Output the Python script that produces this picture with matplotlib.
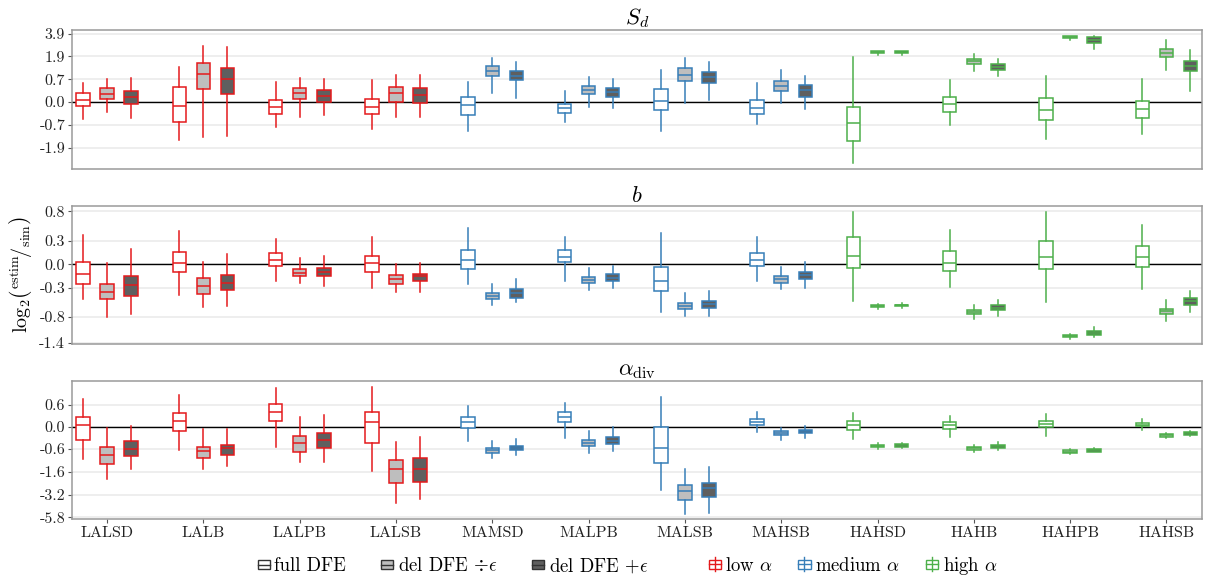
import numpy as np
import matplotlib
matplotlib.use("Agg")
import matplotlib.pyplot as plt
from matplotlib.patches import Patch, Rectangle
from matplotlib.lines import Line2D
from matplotlib.legend_handler import HandlerBase

plt.rcParams['font.family'] = ['cmr10', 'DejaVu Serif']
plt.rcParams['mathtext.fontset'] = 'cm'
plt.rcParams['axes.unicode_minus'] = False

categories = ['LALSD', 'LALB', 'LALPB', 'LALSB', 'MAMSD', 'MALPB', 'MALSB', 'MAHSB',
              'HAHSD', 'HAHB', 'HAHPB', 'HAHSB']
alpha_class = ['low'] * 4 + ['medium'] * 4 + ['high'] * 4

# box stats per category: (whisker low, q1, median, q3, whisker high)
sd_full = [(-0.47, -0.09, 0.05, 0.23, 0.56), (-1.40, -0.61, -0.11, 0.42, 1.27),
           (-0.78, -0.32, -0.12, 0.05, 0.58), (-0.86, -0.33, -0.12, 0.06, 0.65),
           (-0.98, -0.35, -0.07, 0.12, 0.60), (-0.58, -0.29, -0.16, -0.06, 0.29),
           (-0.95, -0.20, 0.03, 0.36, 1.11), (-0.68, -0.33, -0.14, 0.05, 0.56),
           (-3.13, -1.48, -0.62, -0.12, 1.85), (-0.72, -0.27, -0.04, 0.12, 0.67),
           (-1.35, -0.51, -0.20, 0.09, 0.84), (-1.11, -0.44, -0.17, 0.03, 0.72)]
sd_del_div = [(-0.26, 0.08, 0.19, 0.39, 0.71), (-1.26, 0.35, 0.92, 1.48, 2.64),
              (-0.42, 0.06, 0.22, 0.37, 0.73), (-0.42, 0.01, 0.23, 0.43, 0.87),
              (0.22, 0.84, 1.07, 1.31, 1.78), (-0.12, 0.19, 0.32, 0.44, 0.79),
              (-0.03, 0.64, 0.89, 1.21, 1.78), (-0.03, 0.29, 0.44, 0.63, 1.11),
              (2.00, 2.13, 2.20, 2.26, 2.28), (1.04, 1.42, 1.57, 1.72, 2.08),
              (3.26, 3.43, 3.54, 3.64, 3.68), (1.11, 1.85, 2.13, 2.43, 3.26)]
sd_del_plus = [(-0.44, -0.04, 0.11, 0.30, 0.73), (-1.23, 0.20, 0.71, 1.19, 2.59),
               (-0.34, 0.01, 0.16, 0.31, 0.69), (-0.42, -0.02, 0.18, 0.39, 0.87),
               (0.09, 0.65, 0.84, 1.07, 1.55), (-0.14, 0.13, 0.25, 0.37, 0.71),
               (0.04, 0.56, 0.77, 1.02, 1.54), (-0.19, 0.12, 0.33, 0.47, 0.84),
               (2.00, 2.12, 2.19, 2.25, 2.27), (0.81, 1.11, 1.26, 1.40, 1.74),
               (2.43, 2.94, 3.23, 3.57, 3.60), (0.28, 1.04, 1.29, 1.60, 2.38)]

b_full = [(-0.47, -0.24, -0.11, 0.02, 0.38), (-0.41, -0.09, 0.01, 0.15, 0.45),
          (-0.20, -0.02, 0.05, 0.13, 0.33), (-0.31, -0.09, 0.01, 0.09, 0.35),
          (-0.24, -0.05, 0.05, 0.17, 0.49), (-0.20, 0.02, 0.08, 0.17, 0.35),
          (-0.70, -0.35, -0.20, -0.03, 0.41), (-0.21, -0.02, 0.05, 0.13, 0.36),
          (-0.50, -0.04, 0.09, 0.35, 0.79), (-0.29, -0.08, 0.01, 0.16, 0.46),
          (-0.52, -0.05, 0.08, 0.29, 0.79), (-0.32, -0.03, 0.08, 0.22, 0.55)]
b_del_div = [(-0.80, -0.48, -0.36, -0.24, 0.01), (-0.61, -0.39, -0.28, -0.17, 0.03),
             (-0.23, -0.14, -0.10, -0.06, 0.07), (-0.36, -0.24, -0.18, -0.13, 0.00),
             (-0.58, -0.48, -0.43, -0.38, -0.25), (-0.33, -0.23, -0.19, -0.15, -0.04),
             (-0.77, -0.65, -0.59, -0.54, -0.38), (-0.32, -0.23, -0.18, -0.14, -0.03),
             (-0.65, -0.61, -0.60, -0.58, -0.55), (-0.84, -0.74, -0.71, -0.67, -0.58),
             (-1.29, -1.24, -1.22, -1.19, -1.17), (-0.89, -0.74, -0.69, -0.64, -0.49)]
b_del_plus = [(-0.74, -0.42, -0.26, -0.14, 0.19), (-0.59, -0.33, -0.23, -0.13, 0.12),
              (-0.27, -0.14, -0.09, -0.04, 0.09), (-0.36, -0.21, -0.14, -0.11, 0.01),
              (-0.52, -0.45, -0.38, -0.32, -0.18), (-0.31, -0.20, -0.16, -0.12, -0.02),
              (-0.77, -0.62, -0.56, -0.50, -0.35), (-0.31, -0.18, -0.13, -0.09, 0.03),
              (-0.62, -0.60, -0.58, -0.57, -0.54), (-0.77, -0.67, -0.63, -0.58, -0.49),
              (-1.24, -1.20, -1.15, -1.11, -1.00), (-0.71, -0.57, -0.51, -0.45, -0.34)]

ad_full = [(-0.97, -0.31, 0.03, 0.23, 0.80), (-0.62, -0.09, 0.12, 0.35, 0.97),
           (-0.53, 0.14, 0.38, 0.61, 1.29), (-1.53, -0.40, 0.10, 0.37, 1.34),
           (-0.34, -0.03, 0.10, 0.22, 0.57), (-0.26, 0.11, 0.22, 0.37, 0.65),
           (-2.78, -1.15, -0.58, -0.01, 0.89), (-0.12, 0.04, 0.11, 0.19, 0.37),
           (-0.29, -0.06, 0.04, 0.14, 0.34), (-0.23, -0.04, 0.03, 0.10, 0.25),
           (-0.21, -0.01, 0.07, 0.14, 0.31), (-0.08, 0.01, 0.04, 0.08, 0.17)]
ad_del_div = [(-2.04, -1.22, -0.80, -0.52, -0.03), (-1.44, -0.92, -0.68, -0.55, -0.05),
              (-1.13, -0.69, -0.41, -0.22, 0.24), (-4.02, -2.28, -1.47, -1.04, -0.37),
              (-0.92, -0.74, -0.64, -0.57, -0.36), (-0.74, -0.51, -0.40, -0.31, -0.09),
              (-5.29, -3.67, -2.89, -2.42, -1.42), (-0.31, -0.20, -0.14, -0.10, -0.02),
              (-0.61, -0.55, -0.51, -0.47, -0.42), (-0.72, -0.63, -0.57, -0.52, -0.47),
              (-0.77, -0.74, -0.69, -0.64, -0.61), (-0.26, -0.24, -0.20, -0.17, -0.14)]
ad_del_plus = [(-1.47, -0.86, -0.60, -0.35, 0.02), (-1.29, -0.80, -0.58, -0.46, -0.04),
               (-1.13, -0.56, -0.33, -0.15, 0.28), (-3.64, -2.19, -1.42, -0.93, -0.25),
               (-0.81, -0.65, -0.56, -0.49, -0.30), (-0.68, -0.45, -0.34, -0.25, 0.00),
               (-5.20, -3.45, -2.65, -2.26, -1.34), (-0.28, -0.15, -0.10, -0.06, 0.02),
               (-0.56, -0.53, -0.48, -0.43, -0.40), (-0.62, -0.56, -0.51, -0.46, -0.39),
               (-0.72, -0.69, -0.64, -0.60, -0.57), (-0.22, -0.19, -0.15, -0.12, -0.09)]

panel_titles = [r'$S_d$', r'$b$', r'$\alpha_{\mathrm{div}}$']
panel_ticks = [[-1.9, -0.7, 0.0, 0.7, 1.9, 3.9],
               [-1.4, -0.8, -0.3, 0.0, 0.3, 0.8],
               [-5.8, -3.2, -1.6, -0.6, 0.0, 0.6]]
panel_ylim = [(-3.76, 4.34), (-1.43, 0.91), (-6.06, 1.64)]
panel_data = [(sd_full, sd_del_div, sd_del_plus),
              (b_full, b_del_div, b_del_plus),
              (ad_full, ad_del_div, ad_del_plus)]

fill_labels = ['full DFE', r'del DFE $\div\epsilon$', r'del DFE $+\epsilon$']
fill_colors = ['white', '#bebebe', '#5f5f5f']
class_labels = [r'low $\alpha$', r'medium $\alpha$', r'high $\alpha$']
class_colors = {'low': '#e41a1c', 'medium': '#377eb8', 'high': '#4daf4a'}


def fwd(v):
    v = np.asarray(v, dtype=float)
    return np.sign(v) * np.log2(1 + np.abs(v))


def inv(t):
    t = np.asarray(t, dtype=float)
    return np.sign(t) * (2 ** np.abs(t) - 1)


fig = plt.figure(figsize=(12.07, 5.81), dpi=100)
rects = [(0.0597, 0.7091, 0.9362, 0.2393),
         (0.0597, 0.4079, 0.9362, 0.2375),
         (0.0597, 0.1067, 0.9362, 0.2375)]

x = np.arange(1, len(categories) + 1)
offsets = [-0.25, 0.0, 0.25]
width = 0.14

for p, rect in enumerate(rects):
    ax = fig.add_axes(rect)
    ax.set_yscale('function', functions=(fwd, inv))
    for k, series in enumerate(panel_data[p]):
        for i, s in enumerate(series):
            col = class_colors[alpha_class[i]]
            st = [dict(whislo=s[0], q1=s[1], med=s[2], q3=s[3], whishi=s[4], fliers=[])]
            ax.bxp(st, positions=[x[i] + offsets[k]], widths=width, patch_artist=True,
                   showfliers=False, showcaps=False, manage_ticks=False,
                   boxprops=dict(facecolor=fill_colors[k], edgecolor=col, linewidth=1.1),
                   medianprops=dict(color=col, linewidth=1.1),
                   whiskerprops=dict(color=col, linewidth=1.1))
    ax.axhline(0, color='black', lw=1.0, zorder=1)
    ax.set_ylim(panel_ylim[p])
    ax.set_xlim(0.636, 12.37)
    ax.set_yticks(panel_ticks[p])
    ax.set_yticklabels(['%.1f' % v for v in panel_ticks[p]])
    ax.minorticks_off()
    ax.yaxis.grid(True, color='#ebebeb', lw=1.2, zorder=0)
    ax.set_axisbelow(True)
    for sp in ax.spines.values():
        sp.set_color('#9a9a9a')
        sp.set_linewidth(1.1)
    ax.tick_params(axis='y', length=3, color='#555555', labelsize=11.5, pad=2,
                   labelcolor='#222222')
    if p == 2:
        ax.set_xticks(x)
        ax.set_xticklabels(categories)
        ax.tick_params(axis='x', length=3, color='#555555', labelsize=11.5,
                       labelcolor='#222222', pad=2)
    else:
        ax.set_xticks([])
    ax.set_title(panel_titles[p], fontsize=16.5, pad=3)

fig.text(0.017, 0.527, r'$\log_2\!\left({}^{\mathrm{estim}}\!/{}_{\mathrm{sim}}\right)$',
         rotation=90, ha='center', va='center', fontsize=14.5)


class BoxIcon(HandlerBase):
    def __init__(self, cross):
        super().__init__()
        self.cross = cross

    def create_artists(self, legend, orig_handle, xdescent, ydescent, width, height,
                       fontsize, trans):
        fc = orig_handle.get_facecolor()
        ec = orig_handle.get_edgecolor()
        x0, y0 = -xdescent, -ydescent
        r = Rectangle((x0, y0 + 0.1 * height), width, 0.8 * height, facecolor=fc,
                      edgecolor=ec, lw=1.0, transform=trans)
        m = Line2D([x0, x0 + width], [y0 + height / 2] * 2, color=ec, lw=1.0,
                   transform=trans)
        arts = [r, m]
        if self.cross:
            arts.append(Line2D([x0 + width / 2] * 2, [y0 - 0.1 * height, y0 + 1.1 * height],
                               color=ec, lw=1.0, transform=trans))
        return arts


fill_handles = [Patch(facecolor=c, edgecolor='#333333') for c in fill_colors]
class_handles = [Patch(facecolor='white', edgecolor=class_colors[c])
                 for c in ['low', 'medium', 'high']]

leg_kw = dict(frameon=False, ncol=3, fontsize=13.5, handlelength=0.65, handleheight=0.6,
              handletextpad=0.25, borderpad=0, borderaxespad=0)
fig.legend(fill_handles, fill_labels, loc='center right', bbox_to_anchor=(0.537, 0.026),
           handler_map={h: BoxIcon(False) for h in fill_handles}, columnspacing=1.85,
           **leg_kw)
fig.legend(class_handles, class_labels, loc='center left', bbox_to_anchor=(0.587, 0.026),
           handler_map={h: BoxIcon(True) for h in class_handles}, columnspacing=1.35,
           **leg_kw)

fig.savefig('out.png', dpi=100)
